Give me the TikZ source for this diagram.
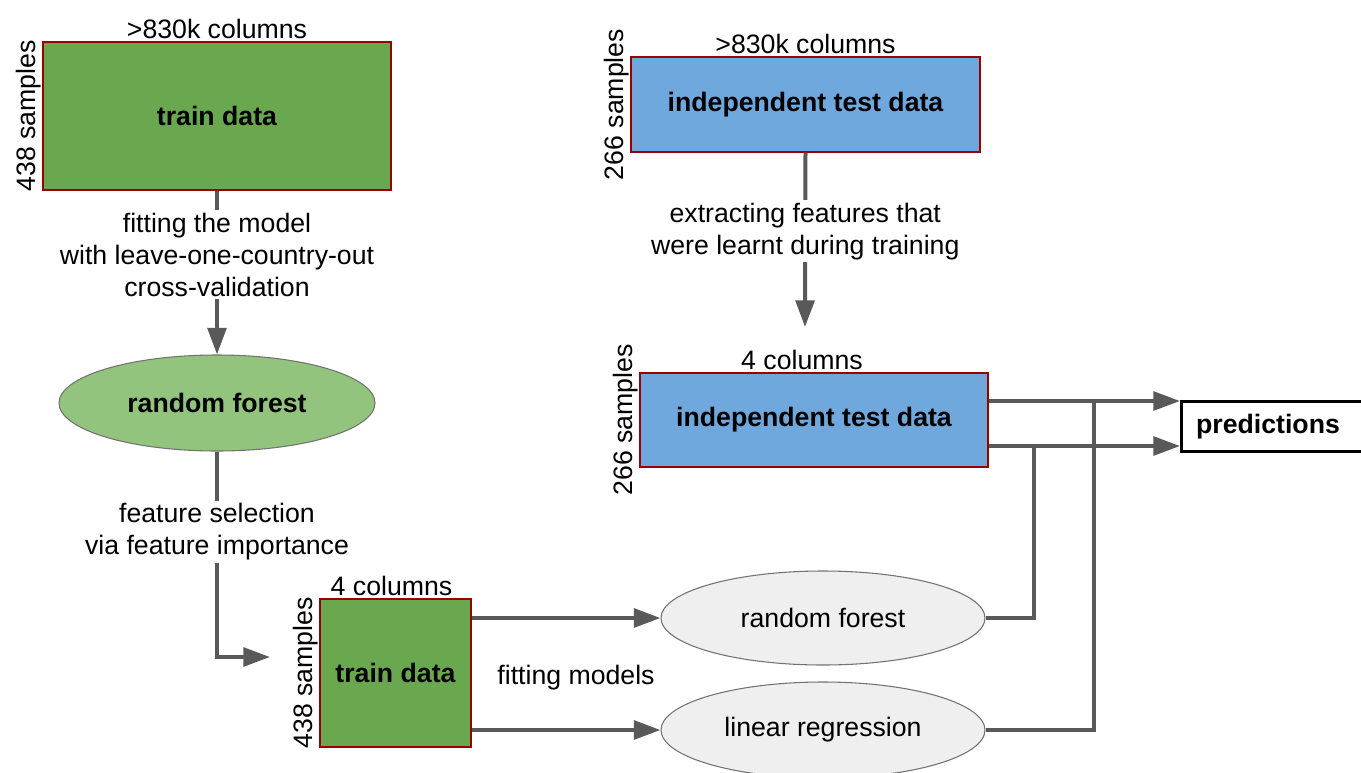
\documentclass[tikz,border=0pt]{standalone}
\usepackage{fontspec}
\setmainfont{Liberation Sans}
\usetikzlibrary{arrows.meta,shapes.geometric}
\definecolor{traingreen}{HTML}{6AA84F}
\definecolor{testblue}{HTML}{6FA8DC}
\definecolor{rfgreen}{HTML}{93C47D}
\definecolor{modelgray}{HTML}{EFEFEF}
\definecolor{boxred}{HTML}{990000}
\definecolor{linegray}{HTML}{595959}
\newcommand{\figfont}{\fontsize{20}{24}\selectfont}

\begin{document}
\begin{tikzpicture}[x=0.75pt,y=-0.75pt,line join=miter,font=\figfont,
  >={Triangle[length=20pt,width=14pt]},
  databox/.style={draw=boxred,line width=1pt,inner sep=0pt,font=\figfont\bfseries},
  modelell/.style={ellipse,draw=linegray!85,line width=0.8pt,inner sep=0pt},
  flow/.style={draw=linegray,line width=3pt},
  collabel/.style={anchor=south,inner sep=2pt},
  rowlabel/.style={anchor=south,rotate=90,inner sep=1pt},
  steplabel/.style={fill=white,align=center,inner sep=2pt}]
\useasboundingbox (0,0) rectangle (1361,772);
\clip (0,0) rectangle (1361,772);

% data tables
\node[databox,fill=traingreen,minimum width=261pt,minimum height=111pt] (train1) at (217,116) {train data};
\node[collabel] (train1cols) at (train1.north) {>830k columns};
\node[rowlabel] (train1rows) at (train1.west) {438 samples};

\node[databox,fill=testblue,minimum width=261.75pt,minimum height=71.25pt] (tst1) at (805.5,104.5) {independent test data};
\node[collabel] (tst1cols) at (tst1.north) {>830k columns};
\node[rowlabel] (tst1rows) at (tst1.west) {266 samples};

\node[databox,fill=testblue,minimum width=261pt,minimum height=70.5pt] (tst2) at (814,420) {independent test data};
\node[collabel,xshift=-9pt] (tst2cols) at (tst2.north) {4 columns};
\node[rowlabel] (tst2rows) at (tst2.west) {266 samples};

\node[databox,fill=traingreen,minimum width=113.25pt,minimum height=111pt] (train2) at (395.5,673) {train data};
\node[collabel,xshift=-3pt] (train2cols) at (train2.north) {4 columns};
\node[rowlabel] (train2rows) at (train2.west) {438 samples};

% models
\node[modelell,fill=rfgreen,minimum width=237pt,minimum height=72pt,font=\figfont\bfseries] (rf1) at (217,403) {random forest};
\node[modelell,fill=modelgray,minimum width=243pt,minimum height=70.5pt] (rf2) at (823,618) {random forest};
\node[modelell,fill=modelgray,minimum width=243pt,minimum height=72pt] (lr) at (823,730) {linear regression};

\node[draw=black,line width=2.2pt,anchor=west,minimum height=38pt,text width=160pt,inner xsep=11pt,align=left,font=\figfont\bfseries] (pred) at (1180,426.5) {predictions};
\node (fitlabel) at (576,678) {fitting models};

\coordinate (fsel) at (270,657);
\coordinate (xtip) at (805,327);
\coordinate (pa) at (1180,401);
\coordinate (pb) at (1180,446);
\coordinate (ja) at (1094,401);
\coordinate (jb) at (1034,446);

% connectors
\draw[flow,->] (train1.south) -- node[steplabel,pos=0.39] {fitting the model\\with leave-one-country-out\\cross-validation} (rf1.north);
\draw[flow,->] (rf1.south) -- node[steplabel,pos=0.39] {feature selection\\via feature importance} (rf1.south |- fsel) -- (fsel);
\draw[flow,->] (tst1.south) -- node[steplabel,pos=0.45] {extracting features that\\were learnt during training} (xtip);
\draw[flow,->] (train2.east |- rf2) -- (rf2.west);
\draw[flow,->] (train2.east |- lr) -- (lr.west);
\draw[flow] (rf2.east) -| (jb);
\draw[flow] (lr.east) -| (ja);
\draw[flow,->] (tst2.east |- pa) -- (pa);
\draw[flow,->] (tst2.east |- pb) -- (pb);

\end{tikzpicture}
\end{document}
